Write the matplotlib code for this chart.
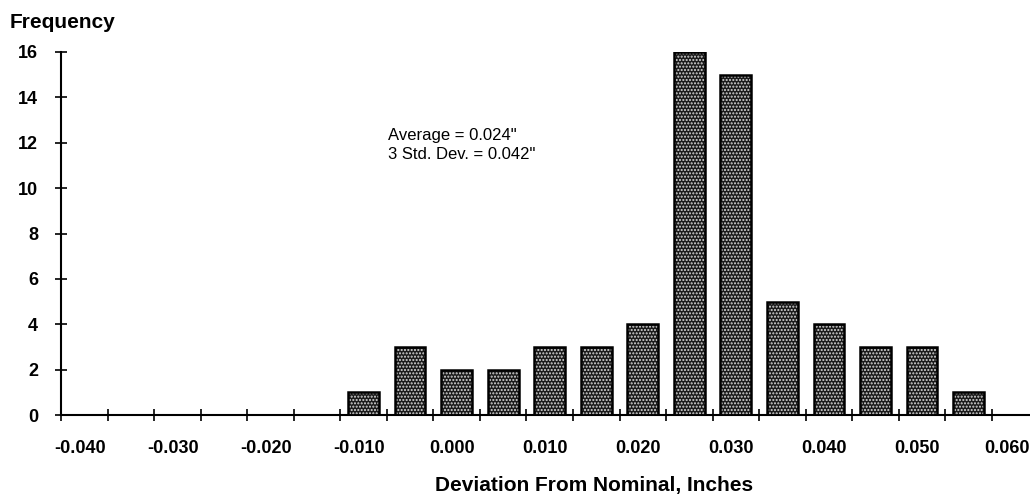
import matplotlib
matplotlib.use("Agg")
import matplotlib.pyplot as plt
import numpy as np

plt.rcParams['font.family'] = ['Liberation Sans', 'DejaVu Sans']

bin_centers = [-0.0075, -0.0025, 0.0025, 0.0075, 0.0125, 0.0175, 0.0225,
               0.0275, 0.0325, 0.0375, 0.0425, 0.0475, 0.0525, 0.0575]
counts = [1, 3, 2, 2, 3, 3, 4, 16, 15, 5, 4, 3, 3, 1]
x_label_values = [-0.040, -0.030, -0.020, -0.010, 0.000, 0.010, 0.020, 0.030, 0.040, 0.050, 0.060]
x_labels = ["-0.040", "-0.030", "-0.020", "-0.010", "0.000", "0.010", "0.020",
            "0.030", "0.040", "0.050", "0.060"]
y_ticks = [0, 2, 4, 6, 8, 10, 12, 14, 16]

fig = plt.figure(figsize=(10.30, 4.97), dpi=100)
ax = fig.add_axes([61/1030, 82/497, 1 - 61/1030, (415-52)/497])

w = 0.0033
ax.bar(bin_centers, counts, width=w, color='#1a1a1a', edgecolor='#1a1a1a', linewidth=0, zorder=2)
ax.bar(bin_centers, counts, width=w, color='none', edgecolor='#d8d8d8', hatch='.....', linewidth=0, zorder=3)
ax.bar(bin_centers, counts, width=w, color='none', edgecolor='black', linewidth=1.8, zorder=4)

ax.set_xlim(-0.040, 0.0641)
ax.set_ylim(0, 16)
for s in ['top', 'right']:
    ax.spines[s].set_visible(False)
ax.spines['left'].set_linewidth(1.5)
ax.spines['bottom'].set_linewidth(1.5)

edges = np.arange(-0.040, 0.0601, 0.005)
ax.set_xticks(edges)
ax.set_xticklabels([])
label_pos = [v + 0.002 for v in x_label_values]
label_pos[-1] = x_label_values[-1] + 0.0016
ax.set_xticks(label_pos, x_labels, minor=True)
ax.tick_params(axis='x', which='major', direction='inout', length=9, width=1.2)
ax.tick_params(axis='x', which='minor', length=0, pad=18, labelsize=13)
ax.set_yticks(y_ticks)
ax.tick_params(axis='y', direction='inout', length=9, width=1.2, pad=12, labelsize=13)
for lab in ax.get_xticklabels(minor=True) + ax.get_yticklabels():
    lab.set_fontweight('bold')

ax.text(-0.00484, 11.9, 'Average = 0.024"\n3 Std. Dev. = 0.042"', fontsize=12,
        ha='left', va='center', linespacing=1.3)

fig.text(10/1030, 1 - 22/497, 'Frequency', fontsize=15, fontweight='bold', ha='left', va='center')
fig.text(594/1030, 1 - 486/497, 'Deviation From Nominal, Inches', fontsize=15,
         fontweight='bold', ha='center', va='center')

fig.savefig('out.png', dpi=100)
